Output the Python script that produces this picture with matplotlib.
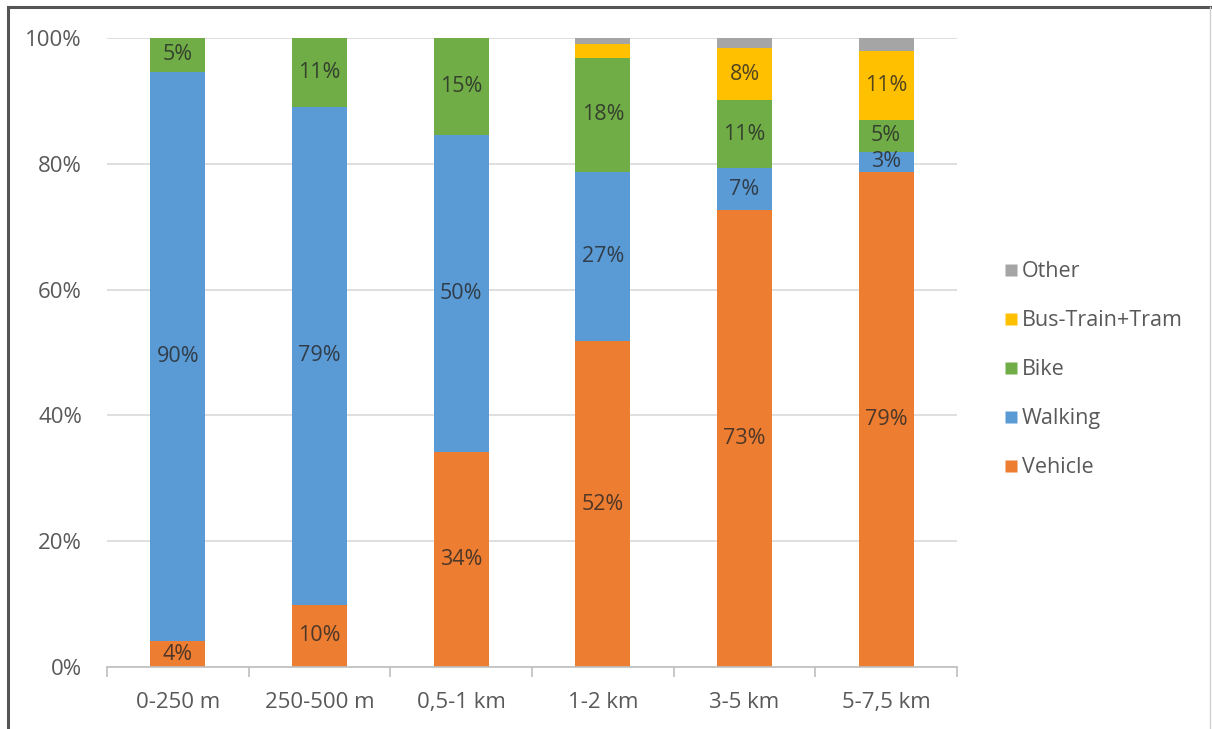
import numpy as np
import matplotlib
matplotlib.use("Agg")
import matplotlib.pyplot as plt
from matplotlib.lines import Line2D

# Mode share by trip distance (percent of trips)
distances = ["0-250 m", "250-500 m", "0,5-1 km", "1-2 km", "3-5 km", "5-7,5 km"]
vehicle = [4.1, 9.9, 34.2, 51.8, 72.6, 78.7]
walking = [90.5, 79.1, 50.4, 26.9, 6.7, 3.2]
bike = [5.4, 11.0, 15.4, 18.1, 10.8, 5.1]
bus_train_tram = [0.0, 0.0, 0.0, 2.2, 8.3, 10.9]
other = [0.0, 0.0, 0.0, 1.0, 1.6, 2.1]

series = [
    ("Vehicle", vehicle, "#ED7D31"),
    ("Walking", walking, "#5B9BD5"),
    ("Bike", bike, "#70AD47"),
    ("Bus-Train+Tram", bus_train_tram, "#FFC000"),
    ("Other", other, "#A5A5A5"),
]
labelled = {"Vehicle", "Walking", "Bike", "Bus-Train+Tram"}

plt.rcParams["font.family"] = ["Open Sans", "DejaVu Sans"]
text_grey = "#595959"

fig = plt.figure(figsize=(12.12, 7.29), dpi=100)
ax = fig.add_axes([0.0883, 0.085, 0.7013, 0.863])

x = np.arange(len(distances))
bottom = np.zeros(len(distances))
handles = []
for name, vals, color in series:
    vals = np.array(vals, dtype=float)
    ax.bar(x, vals, 0.39, bottom=bottom, color=color, edgecolor="none", zorder=2)
    if name in labelled:
        for xi, b, v in zip(x, bottom, vals):
            if v >= 2.5:
                ax.text(xi, b + v / 2, f"{v:.0f}%", ha="center", va="center",
                        fontsize=15.5, color="#262626", alpha=0.8, zorder=3)
    bottom += vals
    handles.append(Line2D([0], [0], marker="s", linestyle="none", markersize=8.5,
                          markerfacecolor=color, markeredgecolor="none", label=name))

ax.set_xlim(-0.5, len(distances) - 0.5)
ax.set_ylim(0, 100)
ax.set_yticks(np.arange(0, 101, 20))
ax.set_yticklabels([f"{v}%" for v in range(0, 101, 20)])
ax.set_xticks(x)
ax.set_xticklabels(distances)
ax.yaxis.grid(True, color="#D9D9D9", linewidth=1.2, zorder=0)
ax.set_axisbelow(True)
for side in ("top", "right", "left"):
    ax.spines[side].set_visible(False)
ax.spines["bottom"].set_color("#BFBFBF")
ax.spines["bottom"].set_linewidth(1.2)

# category separator ticks along the bottom axis
ax.set_xticks(np.arange(-0.5, len(distances)), minor=True)
ax.tick_params(axis="x", which="minor", length=7, color="#BFBFBF", width=1.2)
ax.tick_params(axis="x", which="major", length=0, pad=18, labelsize=16, labelcolor=text_grey)
ax.tick_params(axis="y", length=0, pad=18, labelsize=16, labelcolor=text_grey)

leg = fig.legend(handles=handles[::-1], loc="center left", bbox_to_anchor=(0.81, 0.493),
                 frameon=False, fontsize=15.5, labelspacing=1.3, handletextpad=0.05,
                 handlelength=0.9)
for t in leg.get_texts():
    t.set_color(text_grey)

# outer frame lines
fig.add_artist(Line2D([0.0066, 0.0066], [0, 0.991], transform=fig.transFigure,
                      color="#555555", linewidth=2.2))
fig.add_artist(Line2D([0.0066, 1.0], [0.991, 0.991], transform=fig.transFigure,
                      color="#555555", linewidth=2.2))
fig.add_artist(Line2D([0.9985, 0.9985], [0, 0.991], transform=fig.transFigure,
                      color="#D0D0D0", linewidth=1.0))

fig.savefig("out.png", dpi=100, facecolor="white")
